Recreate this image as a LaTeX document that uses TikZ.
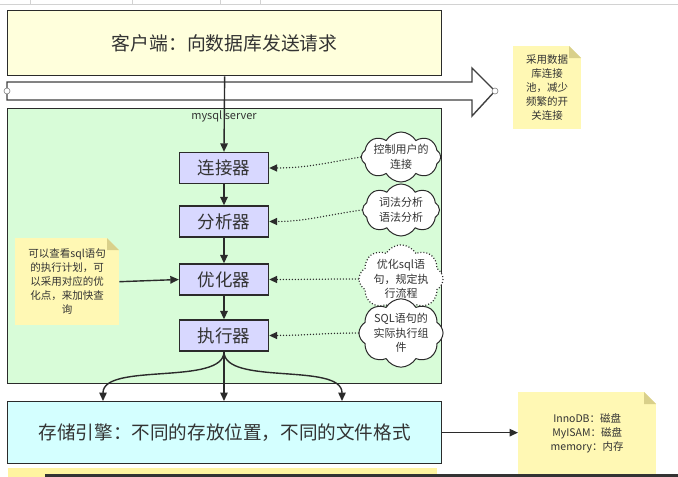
\documentclass[tikz,border=0pt]{standalone}
\usepackage{fontspec}
\setmainfont{Noto Sans CJK SC}
\usetikzlibrary{shapes.symbols,arrows.meta}
\definecolor{clientfill}{HTML}{FFFFDC}
\definecolor{serverfill}{HTML}{D8FCD8}
\definecolor{compfill}{HTML}{D8D8FF}
\definecolor{storefill}{HTML}{D4FFFF}
\definecolor{notefill}{HTML}{FFF8B4}
\definecolor{notefold}{HTML}{D9D08A}
\definecolor{edge}{HTML}{2B2B2B}
\definecolor{txt}{HTML}{333333}
\definecolor{stripyellow}{HTML}{FFF4A0}
\begin{document}
\begin{tikzpicture}[x=1pt,y=-1pt,
  bigbox/.style={draw=edge,line width=1.3pt,minimum width=434pt,anchor=north west,inner sep=0,text=txt},
  comp/.style={draw=edge,line width=1.3pt,fill=compfill,minimum width=89pt,minimum height=31pt,inner sep=0,font=\fontsize{17.5}{20}\selectfont,text=txt},
  cloudn/.style={cloud,cloud puffs=8,cloud puff arc=120,cloud ignores aspect,draw=edge,fill=white,line width=1pt,minimum width=77pt,inner sep=0,align=center,font=\fontsize{11}{14.5}\selectfont,text=txt},
  notebox/.style={fill=notefill,inner sep=0,anchor=north west,align=center,font=\fontsize{10.5}{14}\selectfont,text=txt,
    path picture={
      \fill[#1] ([xshift=-12pt]path picture bounding box.north east) -- (path picture bounding box.north east) -- ([yshift=-12pt]path picture bounding box.north east) -- cycle;
      \fill[notefold] ([xshift=-12pt]path picture bounding box.north east) -- ([xshift=-12pt,yshift=-12pt]path picture bounding box.north east) -- ([yshift=-12pt]path picture bounding box.north east) -- cycle;
    }},
  arr/.style={draw=edge,line width=1.4pt,-{Triangle[length=8.5pt,width=7.5pt]}},
  dotarr/.style={draw=edge,line width=1.5pt,dash pattern=on 0pt off 3pt,line cap=round,-{Triangle[length=8pt,width=7pt]}},
  ring/.style={circle,draw=gray,fill=white,line width=0.6pt,minimum size=6pt,inner sep=0}
]
\useasboundingbox (0,0) rectangle (678,477);
\clip (0,0) rectangle (678,477);
% top screen line
\draw[gray!35,line width=0.6pt] (0,4) -- (678,4);
\foreach \tx in {30,132,220,260} \draw[gray!35,line width=0.6pt] (\tx,0) -- (\tx,4);
% client
\node[bigbox,fill=clientfill,minimum height=65pt,font=\fontsize{18.8}{22}\selectfont] (client) at (7,10) {客户端：向数据库发送请求};
% big arrow
\draw[draw=edge!90,line width=1.4pt,fill=white] (7,82) -- (472,82) -- (472,68) -- (495,91) -- (472,116) -- (472,100) -- (7,100) -- cycle;
\node[ring] (ringL) at (7,91) {};
\node[ring] (ringR) at (495,91) {};
% server
\node[bigbox,fill=serverfill,minimum height=275pt] (server) at (7,108) {};
\node[font=\fontsize{11}{13}\selectfont,text=txt,inner sep=0] (srvlabel) at (224,116) {mysql server};
% bottom strip
\fill[stripyellow] (8,468) rectangle (437,480);
% storage
\node[bigbox,fill=storefill,minimum height=62pt,font=\fontsize{18.6}{22}\selectfont] (storage) at (7,401) {存储引擎：不同的存放位置，不同的文件格式};
% components
\node[comp] (conn) at (224,168) {连接器};
\node[comp] (ana) at (224,221.5) {分析器};
\node[comp] (opt) at (224,279.5) {优化器};
\node[comp] (exe) at (224,335.5) {执行器};
\draw[arr] (client.south) -- (conn.north);
\draw[arr] (conn.south) -- (ana.north);
\draw[arr] (ana.south) -- (opt.north);
\draw[arr] (opt.south) -- (exe.north);
% storage branches
\coordinate (sL) at (103,401);
\coordinate (sM) at (224,401);
\coordinate (sR) at (342,401);
\draw[arr] (exe.south) .. controls (224,386) and (103,362) .. (sL);
\draw[arr] (exe.south) -- (sM);
\draw[arr] (exe.south) .. controls (224,386) and (342,362) .. (sR);
% clouds
\node[cloudn,minimum height=50pt] (c1) at (401,157) {控制用户的\\连接};
\node[cloudn,minimum height=52pt] (c2) at (401,210) {词法分析\\语法分析};
\node[cloudn,minimum height=60pt,dotted,line width=1.2pt] (c3) at (401,279) {优化sql语\\句，规定执\\行流程};
\node[cloudn,minimum height=57pt] (c4) at (401,333) {SQL语句的\\实际执行组\\件};
\draw[dotarr] (c1.west) to[out=190,in=0] (conn.east);
\draw[dotarr] (c2.west) to[out=188,in=0] (ana.east);
\draw[dotarr] (c3.west) to[out=180,in=0] (opt.east);
\draw[dotarr] (c4.west) to[out=180,in=0] (exe.east);
% notes
\node[notebox=white,minimum width=68pt,minimum height=83pt] (tnote) at (513,46) {采用数据\\库连接\\池，减少\\频繁的开\\关连接};
\node[notebox=serverfill,minimum width=104pt,minimum height=87pt] (lnote) at (15,238) {可以查看sql语句\\的执行计划，可\\以采用对应的优\\化点，来加快查\\询};
\node[notebox=white,minimum width=138pt,minimum height=82pt] (rnote) at (518,392) {InnoDB：磁盘\\MyISAM：磁盘\\memory：内存};
\draw[arr] (lnote.east) -- (opt.west);
\draw[arr] (storage.east) -- (storage.east -| rnote.west);
\fill[black!80] (45,473.5) rectangle (678,480);
\end{tikzpicture}
\end{document}
